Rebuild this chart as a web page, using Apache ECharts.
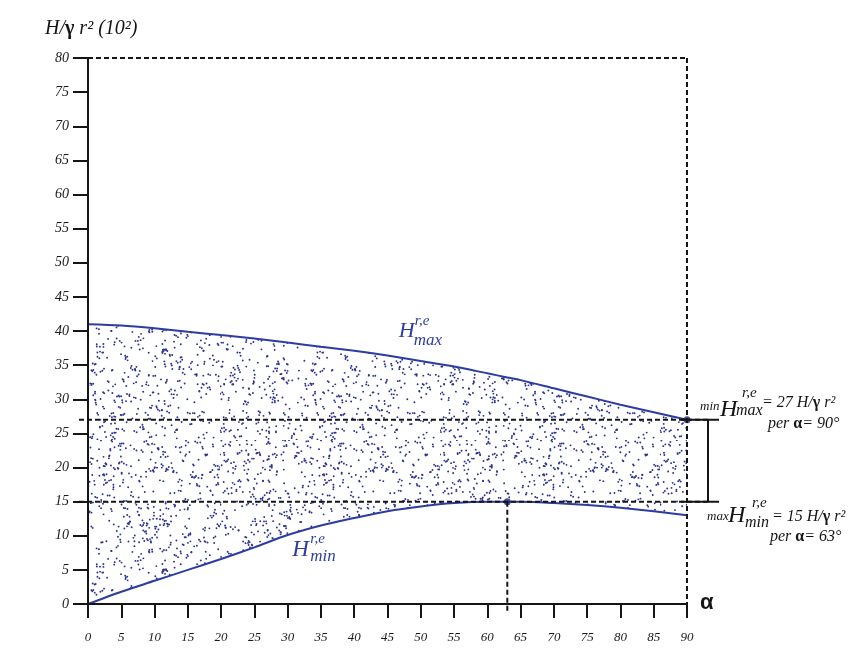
<!DOCTYPE html>
<html>
<head>
<meta charset="utf-8">
<script src="https://cdn.jsdelivr.net/npm/echarts@6/dist/echarts.min.js"></script>
<style>
  html, body { margin: 0; padding: 0; background: #fff; }
  #chart { width: 857px; height: 653px; }
</style>
</head>
<body>
<div id="chart"></div>
<script>
// Inclination angle alpha (degrees) and the envelope of H / (gamma r^2), in units of 10^2
const alphaDeg = [0, 5, 10, 15, 20, 25, 30, 35, 40, 45, 50, 55, 60, 63, 65, 70, 75, 80, 85, 90];
const hMax     = [41.0, 40.8, 40.4, 39.9, 39.4, 38.9, 38.3, 37.7, 37.1, 36.4, 35.6, 34.8, 33.8, 33.2, 32.8, 31.6, 30.4, 29.2, 28.1, 27.0];
const hMin     = [0.0, 1.8, 3.4, 5.0, 6.6, 8.3, 10.1, 11.5, 12.6, 13.6, 14.3, 14.8, 15.0, 15.0, 15.0, 14.8, 14.5, 14.1, 13.6, 13.0];

// Critical points: minimum of the upper bound and maximum of the lower bound
const minOfMax = [90, 27];
const maxOfMin = [63, 15];

const BLUE = '#2d3ca2';
const DOT = '#2a3190';
const INK = '#151515';
const SERIF = "'Liberation Serif', 'DejaVu Serif', serif";

// Stipple texture used to shade the admissible band
function stippleTexture(size, count) {
  const c = document.createElement('canvas');
  c.width = c.height = size;
  const g = c.getContext('2d');
  g.fillStyle = DOT;
  let s = 918273645;
  const next = () => { s = (Math.imul(s, 1664525) + 1013904223) >>> 0; return s / 4294967296; };
  const dot = (x, y) => {
    g.beginPath();
    g.arc(x, y, 0.95, 0, Math.PI * 2);
    g.fill();
  };
  for (let i = 0; i < count; i++) {
    const x = next() * size, y = next() * size;
    dot(x, y);
    if (next() < 0.3) dot(x + (next() - 0.5) * 5, y + (next() - 0.5) * 5);
  }
  return c;
}

const chart = echarts.init(document.getElementById('chart'), null, { renderer: 'canvas' });

const tickLabel = { fontFamily: SERIF, fontStyle: 'italic', color: '#1a1a1a' };

chart.setOption({
  animation: false,
  backgroundColor: '#fff',
  grid: { left: 88, right: 170, top: 58, bottom: 49 },
  xAxis: {
    type: 'value', min: 0, max: 90, interval: 5, z: 6,
    axisLine: { show: true, lineStyle: { color: INK, width: 2 } },
    axisTick: { show: true, length: 14, lineStyle: { color: INK, width: 2 } },
    axisLabel: Object.assign({ fontSize: 13, margin: 27 }, tickLabel),
    splitLine: { show: false }
  },
  yAxis: {
    type: 'value', min: 0, max: 80, interval: 5, z: 6,
    axisLine: { show: true, lineStyle: { color: INK, width: 2 } },
    axisTick: { show: true, length: 15, lineStyle: { color: INK, width: 2 } },
    axisLabel: Object.assign({ fontSize: 14, margin: 19 }, tickLabel),
    splitLine: { show: false }
  },
  series: [
    {
      // upper bound: stippled down to the axis
      name: 'Hmax', type: 'line', symbol: 'none', smooth: 0.3,
      data: alphaDeg.map((a, i) => [a, hMax[i]]),
      lineStyle: { color: BLUE, width: 2 },
      areaStyle: { color: { image: stippleTexture(220, 1000), repeat: 'repeat' }, opacity: 1 },
      z: 2
    },
    {
      // lower bound: plain white below it, leaving the band between the curves shaded
      name: 'Hmin', type: 'line', symbol: 'none', smooth: 0.3,
      data: alphaDeg.map((a, i) => [a, hMin[i]]),
      lineStyle: { color: BLUE, width: 2 },
      areaStyle: { color: '#fff', opacity: 1 },
      z: 3
    },
    {
      name: 'extrema', type: 'scatter', symbolSize: 7,
      data: [maxOfMin, minOfMax],
      itemStyle: { color: '#1f2778' }, z: 5
    }
  ]
});

// Reference lines and annotations, placed through the chart's own coordinate system
const px = (x, y) => chart.convertToPixel({ gridIndex: 0 }, [x, y]);
const dash = { stroke: INK, lineWidth: 2, lineDash: [5, 3] };
const solid = { stroke: INK, lineWidth: 2 };
const seg = (x1, y1, x2, y2, style) => ({ type: 'line', z: 10, shape: { x1, y1, x2, y2 }, style });
const txt = (x, y, text, size, extra) => ({
  type: 'text', z: 12, x, y,
  style: Object.assign({
    text, fontSize: size, fontFamily: SERIF, fontStyle: 'italic',
    fill: INK, align: 'left', verticalAlign: 'middle'
  }, extra || {})
});
const gammaRich = (size) => ({
  b: { fontSize: size, fontFamily: SERIF, fontWeight: 'bold', fontStyle: 'normal', fill: INK },
  i: { fontSize: size, fontFamily: SERIF, fontStyle: 'italic', fill: INK }
});

const o = px(0, 0);
const tl = px(0, 80);
const tr = px(90, 80);
const br = px(90, 0);
const pA = px(minOfMax[0], minOfMax[1]);
const pB = px(maxOfMin[0], maxOfMin[1]);
const l27 = px(0, minOfMax[1]);
const l15 = px(0, maxOfMin[1]);
const cMax = px(47, 41);
const cMin = px(31, 10);

const graphics = [
  // frame
  seg(tl[0], tl[1], tr[0], tr[1], dash),
  seg(tr[0], tr[1], br[0], br[1] + 8, dash),
  // horizontal guides through the two extrema
  seg(l27[0] - 9, l27[1], pA[0] + 23, pA[1], dash),
  seg(l15[0] - 9, l15[1], pA[0] + 23, pB[1], dash),
  // vertical guide at alpha = 63
  seg(pB[0], pB[1], pB[0], o[1] + 8, dash),
  // bracket between the two levels
  seg(pA[0] - 6, pA[1], pA[0] + 32, pA[1], solid),
  seg(pA[0] - 6, pB[1], pA[0] + 32, pB[1], solid),
  seg(pA[0] + 21, pA[1], pA[0] + 21, pB[1], solid),

  // y-axis title
  {
    type: 'text', z: 12, x: 45, y: 29,
    style: {
      text: '{i|H/}{b|γ}{i| r² (10²)}', align: 'left', verticalAlign: 'middle',
      rich: gammaRich(20)
    }
  },
  // x-axis symbol
  txt(br[0] + 13, br[1] - 1, 'α', 22, { fontFamily: "'Liberation Sans', Arial, sans-serif", fontStyle: 'normal', fontWeight: 'bold' }),

  // curve labels
  txt(cMax[0] - 2, cMax[1] + 7, 'H', 22, { fill: BLUE }),
  txt(cMax[0] + 14, cMax[1] - 3, 'r,e', 15, { fill: BLUE }),
  txt(cMax[0] + 13, cMax[1] + 16, 'max', 17, { fill: BLUE }),

  txt(cMin[0] - 2, cMin[1] + 14, 'H', 23, { fill: BLUE }),
  txt(cMin[0] + 16, cMin[1] + 3, 'r,e', 15, { fill: BLUE }),
  txt(cMin[0] + 16, cMin[1] + 21, 'min', 17, { fill: BLUE }),

  // annotation for the minimum of the upper bound
  txt(pA[0] + 13, pA[1] - 13, 'min', 13),
  txt(pA[0] + 33, pA[1] - 10, 'H', 24),
  txt(pA[0] + 55, pA[1] - 27, 'r,e', 15),
  txt(pA[0] + 49, pA[1] - 9, 'max', 16),
  {
    type: 'text', z: 12, x: pA[0] + 75, y: pA[1] - 17,
    style: { text: '{i|= 27 H/}{b|γ}{i| r²}', align: 'left', verticalAlign: 'middle', rich: gammaRich(16) }
  },
  {
    type: 'text', z: 12, x: pA[0] + 81, y: pA[1] + 4,
    style: { text: '{i|per }{b|α}{i|= 90°}', align: 'left', verticalAlign: 'middle', rich: gammaRich(16) }
  },

  // annotation for the maximum of the lower bound
  txt(pA[0] + 20, pB[1] + 15, 'max', 13),
  txt(pA[0] + 41, pB[1] + 14, 'H', 24),
  txt(pA[0] + 65, pB[1] + 1, 'r,e', 15),
  txt(pA[0] + 58, pB[1] + 21, 'min', 16),
  {
    type: 'text', z: 12, x: pA[0] + 85, y: pB[1] + 15,
    style: { text: '{i|= 15 H/}{b|γ}{i| r²}', align: 'left', verticalAlign: 'middle', rich: gammaRich(16) }
  },
  {
    type: 'text', z: 12, x: pA[0] + 83, y: pB[1] + 35,
    style: { text: '{i|per }{b|α}{i|= 63°}', align: 'left', verticalAlign: 'middle', rich: gammaRich(16) }
  }
];

chart.setOption({ graphic: graphics });
</script>
</body>
</html>
